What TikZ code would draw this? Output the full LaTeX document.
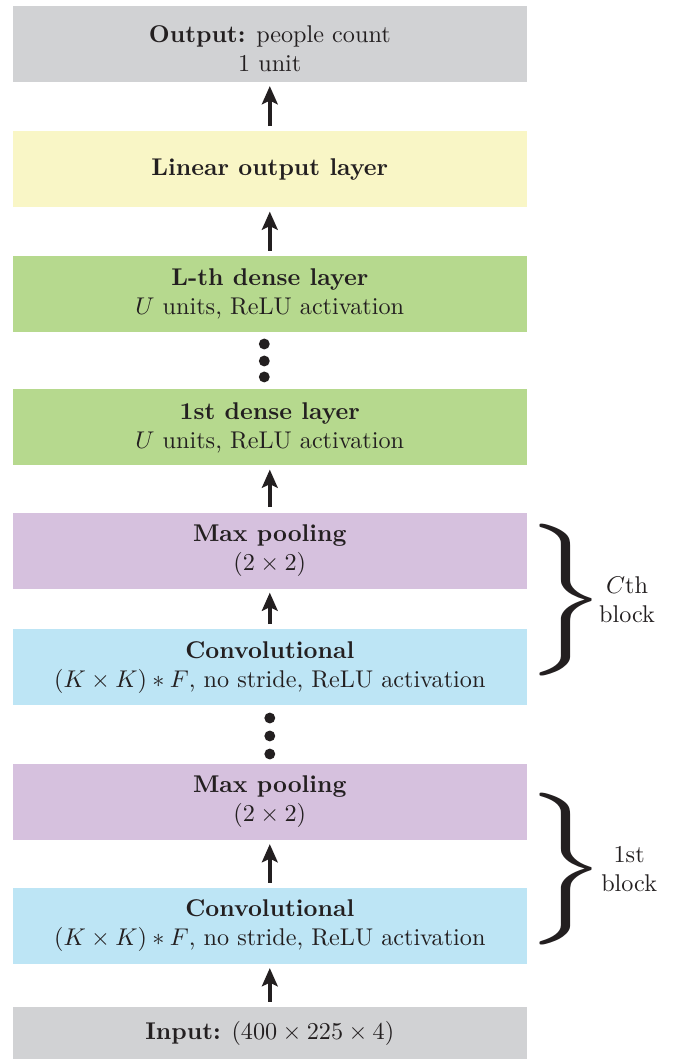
\documentclass[tikz,border=0pt]{standalone}
\usepackage{amsmath}
\usepackage{graphicx}
\usepackage{tikz}
\usetikzlibrary{arrows.meta}
\definecolor{ink}{HTML}{231F20}
\definecolor{iogray}{HTML}{D1D2D4}
\definecolor{linyellow}{HTML}{F9F6C6}
\definecolor{densegreen}{HTML}{B6D98E}
\definecolor{poolpurple}{HTML}{D6C1DE}
\definecolor{convblue}{HTML}{BDE5F5}
\def\brc{\resizebox*{33.5pt}{62.8pt}{$\Big\}$}}

\begin{document}
\begin{tikzpicture}[
  layer/.style={minimum width=7.466cm, minimum height=1.104cm, align=center, text=ink, inner sep=0pt},
  up/.style={-{Stealth[length=7.5pt,width=6.5pt,inset=1.5pt]}, line width=1.6pt, draw=ink, shorten >=1.5pt, shorten <=2pt},
  dot/.style={circle, fill=ink, minimum size=4.5pt, inner sep=0pt},
  brace/.style={anchor=west, inner sep=0pt, text=ink}]
\useasboundingbox (-3.919,0) rectangle (5.959,15.383);
\node (OUT) at (0,14.744) [layer, fill=iogray] {\rule{0pt}{11pt}\textbf{Output:} people count\\ 1 unit};
\node (LIN) at (0,12.921) [layer, fill=linyellow] {\textbf{Linear output layer}};
\node (DL) at (0,11.112) [layer, fill=densegreen] {\textbf{L-th dense layer}\\ $U$ units, ReLU activation};
\node (DOTA1) at (-0.08,10.386) [dot] {};
\node (DOTA2) at (-0.08,10.139) [dot] {};
\node (DOTA3) at (-0.08,9.907) [dot] {};
\node (D1) at (0,9.173) [layer, fill=densegreen] {\textbf{1st dense layer}\\ $U$ units, ReLU activation};
\node (MPC) at (0,7.386) [layer, fill=poolpurple] {\textbf{Max pooling}\\ $(2\times 2)$};
\node (CVC) at (0,5.687) [layer, fill=convblue] {\textbf{Convolutional}\\ $(K\times K)*F$, no stride, ReLU activation};
\node (DOTB1) at (0,4.953) [dot] {};
\node (DOTB2) at (0,4.692) [dot] {};
\node (DOTB3) at (0,4.430) [dot] {};
\node (MP1) at (0,3.733) [layer, fill=poolpurple] {\textbf{Max pooling}\\ $(2\times 2)$};
\node (CV1) at (0,1.932) [layer, fill=convblue] {\textbf{Convolutional}\\ $(K\times K)*F$, no stride, ReLU activation};
\node (IN) at (0,0.378) [layer, minimum height=0.755cm, fill=iogray] {\textbf{Input:} $(400\times 225\times 4)$};

% blocks
\node (BRC) at (3.70,6.667) [brace] {\brc};
\node (BRCTXT) at (5.19,6.667) [align=center, text=ink] {$C$th\\ block};
\node (BR1) at (3.70,2.760) [brace] {\brc};
\node (BR1TXT) at (5.22,2.760) [align=center, text=ink] {1st\\ block};

\draw [up] (LIN) to (OUT);
\draw [up] (DL) to (LIN);
\draw [up] (MPC) to (D1);
\draw [up] (CVC) to (MPC);
\draw [up] (CV1) to (MP1);
\draw [up] (IN) to (CV1);
\end{tikzpicture}
\end{document}
